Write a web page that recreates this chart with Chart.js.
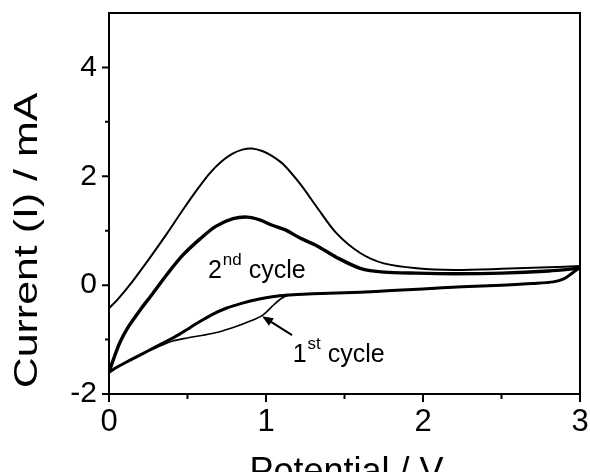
<!DOCTYPE html>
<html>
<head>
<meta charset="utf-8">
<script src="https://cdn.jsdelivr.net/npm/chart.js@4.4.1/dist/chart.umd.min.js"></script>
<style>
  html, body { margin: 0; padding: 0; background: #fff; }
  #wrap { width: 590px; height: 472px; }
</style>
</head>
<body>
<div id="wrap"><canvas id="grafico"></canvas></div>
<script>
// Potencial (V) e corrente (mA)
const cat1Potential = [3.0, 2.95, 2.9, 2.83, 2.7, 2.5, 2.25, 2.0, 1.8, 1.6, 1.4, 1.2, 1.15, 1.1, 1.05, 0.98, 0.9, 0.8, 0.7, 0.6, 0.5, 0.4, 0.3, 0.2, 0.1, 0.05, 0.0];
const cat1Current   = [0.33, 0.22, 0.12, 0.06, 0.03, 0.0, -0.03, -0.07, -0.10, -0.13, -0.15, -0.17, -0.18, -0.24, -0.36, -0.55, -0.66, -0.77, -0.86, -0.92, -0.97, -1.03, -1.15, -1.28, -1.43, -1.51, -1.6];

const an1Potential = [0.0, 0.05, 0.15, 0.26, 0.37, 0.47, 0.56, 0.64, 0.72, 0.79, 0.85, 0.91, 0.98, 1.04, 1.11, 1.22, 1.32, 1.45, 1.6, 1.75, 1.96, 2.2, 2.5, 2.8, 3.0];
const an1Current   = [-0.42, -0.28, 0.07, 0.5, 0.95, 1.38, 1.75, 2.05, 2.28, 2.42, 2.49, 2.51, 2.46, 2.37, 2.22, 1.85, 1.45, 0.95, 0.59, 0.40, 0.31, 0.28, 0.30, 0.33, 0.35];

const cat2Potential = [3.0, 2.95, 2.9, 2.83, 2.7, 2.5, 2.25, 2.0, 1.8, 1.6, 1.4, 1.2, 1.15, 1.05, 0.95, 0.85, 0.75, 0.65, 0.55, 0.5, 0.45, 0.4, 0.3, 0.2, 0.1, 0.05, 0.0];
const cat2Current   = [0.33, 0.22, 0.12, 0.06, 0.03, 0.0, -0.03, -0.07, -0.10, -0.13, -0.15, -0.17, -0.18, -0.21, -0.26, -0.33, -0.42, -0.55, -0.72, -0.81, -0.9, -0.98, -1.13, -1.28, -1.43, -1.51, -1.6];

const an2Potential = [0.0, 0.03, 0.07, 0.12, 0.2, 0.28, 0.37, 0.47, 0.58, 0.68, 0.79, 0.88, 0.96, 1.04, 1.12, 1.22, 1.32, 1.45, 1.6, 1.75, 1.96, 2.2, 2.5, 2.8, 3.0];
const an2Current   = [-1.6, -1.35, -1.05, -0.78, -0.45, -0.15, 0.2, 0.55, 0.85, 1.08, 1.22, 1.25, 1.2, 1.1, 1.02, 0.86, 0.73, 0.51, 0.31, 0.24, 0.22, 0.21, 0.22, 0.26, 0.31];

const xTicks = [0, 1, 2, 3];
const xMinorTicks = [0.5, 1.5, 2.5];
const yTicks = [-2, 0, 2, 4];
const yMinorTicks = [-1, 1, 3];

const fonte = '"Liberation Sans", Arial, sans-serif';

function pontos(xs, ys) {
  return xs.map((x, i) => ({ x: x, y: ys[i] }));
}

// Textos sobre o gráfico (posição em V / mA)
const rotulos = [
  { base: '2', sup: 'nd', resto: ' cycle', x: 0.63, y: 0.13 },
  { base: '1', sup: 'st', resto: ' cycle', x: 1.17, y: -1.41 }
];
const seta = { de: { x: 1.166, y: -0.92 }, para: { x: 0.975, y: -0.57 } };

// Moldura, marcas de escala, títulos e anotações
const extras = {
  id: 'extras',
  afterDraw(chart) {
    const ctx = chart.ctx;
    const a = chart.chartArea;
    const sx = chart.scales.x, sy = chart.scales.y;
    ctx.save();
    ctx.strokeStyle = '#000';
    ctx.lineWidth = 2;
    ctx.strokeRect(a.left, a.top, a.right - a.left, a.bottom - a.top);

    ctx.beginPath();
    xTicks.forEach(v => { const p = sx.getPixelForValue(v); ctx.moveTo(p, a.bottom); ctx.lineTo(p, a.bottom + 8); });
    xMinorTicks.forEach(v => { const p = sx.getPixelForValue(v); ctx.moveTo(p, a.bottom); ctx.lineTo(p, a.bottom + 5); });
    yTicks.forEach(v => { const p = sy.getPixelForValue(v); ctx.moveTo(a.left, p); ctx.lineTo(a.left - 7, p); });
    yMinorTicks.forEach(v => { const p = sy.getPixelForValue(v); ctx.moveTo(a.left, p); ctx.lineTo(a.left - 4, p); });
    ctx.stroke();

    ctx.fillStyle = '#000';
    // título do eixo x
    ctx.font = '36px ' + fonte;
    ctx.textAlign = 'center';
    ctx.textBaseline = 'alphabetic';
    ctx.fillText('Potential / V', (a.left + a.right) / 2 + 2, 483);

    // título do eixo y
    ctx.save();
    ctx.translate(37, (a.top + a.bottom) / 2 + 37);
    ctx.rotate(-Math.PI / 2);
    ctx.scale(1.3, 1);
    ctx.font = '33px ' + fonte;
    ctx.fillText('Current (I) / mA', 0, 0);
    ctx.restore();

    // rótulos dos ciclos
    ctx.textAlign = 'left';
    rotulos.forEach(r => {
      let x = sx.getPixelForValue(r.x);
      const y = sy.getPixelForValue(r.y);
      ctx.font = '25px ' + fonte;
      ctx.fillText(r.base, x, y);
      x += ctx.measureText(r.base).width + 1;
      ctx.font = '17px ' + fonte;
      ctx.fillText(r.sup, x, y - 13);
      x += ctx.measureText(r.sup).width;
      ctx.font = '25px ' + fonte;
      ctx.fillText(r.resto, x, y);
    });

    // seta
    const x1 = sx.getPixelForValue(seta.de.x), y1 = sy.getPixelForValue(seta.de.y);
    const x2 = sx.getPixelForValue(seta.para.x), y2 = sy.getPixelForValue(seta.para.y);
    const ang = Math.atan2(y2 - y1, x2 - x1);
    ctx.lineWidth = 2;
    ctx.beginPath();
    ctx.moveTo(x1, y1);
    ctx.lineTo(x2 - 6 * Math.cos(ang), y2 - 6 * Math.sin(ang));
    ctx.stroke();
    ctx.beginPath();
    ctx.moveTo(x2, y2);
    ctx.lineTo(x2 - 11 * Math.cos(ang) + 4.5 * Math.sin(ang), y2 - 11 * Math.sin(ang) - 4.5 * Math.cos(ang));
    ctx.lineTo(x2 - 11 * Math.cos(ang) - 4.5 * Math.sin(ang), y2 - 11 * Math.sin(ang) + 4.5 * Math.cos(ang));
    ctx.closePath();
    ctx.fill();
    ctx.restore();
  }
};

const ctx = document.getElementById('grafico').getContext('2d');

const grafico = new Chart(ctx, {
  type: 'scatter',
  data: {
    datasets: [
      { label: '1st cycle (cathodic)', data: pontos(cat1Potential, cat1Current), borderWidth: 1.6 },
      { label: '1st cycle (anodic)', data: pontos(an1Potential, an1Current), borderWidth: 2 },
      { label: '2nd cycle (cathodic)', data: pontos(cat2Potential, cat2Current), borderWidth: 3 },
      { label: '2nd cycle (anodic)', data: pontos(an2Potential, an2Current), borderWidth: 3.4 }
    ].map(d => Object.assign(d, {
      showLine: true,
      borderColor: '#000',
      backgroundColor: '#000',
      pointRadius: 0,
      pointHoverRadius: 0,
      tension: 0.3,
      fill: false
    }))
  },
  options: {
    responsive: true,
    maintainAspectRatio: false,
    animation: false,
    layout: { padding: { top: 13, right: 10, left: 0, bottom: 0 } },
    plugins: {
      legend: { display: false },
      title: { display: false },
      tooltip: { enabled: false }
    },
    scales: {
      x: {
        type: 'linear',
        min: 0,
        max: 3,
        afterFit: s => { s.height = 78; s.paddingLeft = 0; s.paddingRight = 0; },
        afterBuildTicks: s => { s.ticks = xTicks.map(v => ({ value: v })); },
        grid: { display: false, drawTicks: false },
        border: { display: false },
        ticks: {
          color: '#000',
          padding: 10,
          maxRotation: 0,
          font: { family: fonte, size: 31 }
        }
      },
      y: {
        min: -2,
        max: 5,
        afterFit: s => { s.width = 109; s.paddingTop = 0; s.paddingBottom = 0; },
        afterBuildTicks: s => { s.ticks = yTicks.map(v => ({ value: v })); },
        grid: { display: false, drawTicks: false },
        border: { display: false },
        ticks: {
          color: '#000',
          padding: 12,
          font: { family: fonte, size: 30 }
        }
      }
    }
  },
  plugins: [extras]
});
</script>
</body>
</html>
